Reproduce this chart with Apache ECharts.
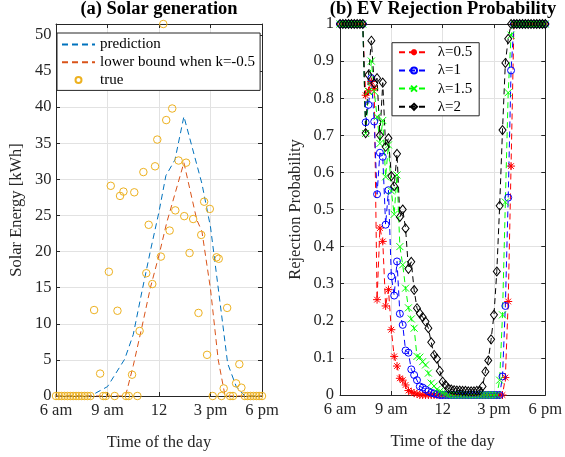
<!DOCTYPE html>
<html>
<head>
<meta charset="utf-8">
<script src="https://cdn.jsdelivr.net/npm/echarts@6/dist/echarts.min.js"></script>
<style>
html,body{margin:0;padding:0;background:#fff;}
#chart{width:565px;height:457px;}
</style>
</head>
<body>
<div id="chart"></div>
<script>
// ---------- Data: (a) Solar generation ----------
const xTickHours = [6, 9, 12, 15, 18];
const xTickLabels = ['6 am', '9 am', '12', '3 pm', '6 pm'];

const predHours  = [6, 8, 9, 10, 10.5, 11, 11.5, 12, 12.4, 12.93, 13.45, 14.5, 15, 15.5, 16, 16.5, 17, 18];
const predValues = [0, 0, 1.3, 5.1, 8.5, 14.4, 20.1, 25.5, 30.5, 32.7, 38.7, 29.4, 23.4, 14.0, 4.5, 1.3, 0, 0];

const lbHours  = [6, 10.05, 10.5, 11, 11.5, 12, 12.45, 13.45, 14.2, 14.5, 15, 15.45, 15.85, 18];
const lbValues = [0, 0, 4.2, 9.5, 15.0, 19.5, 24.0, 32.3, 24.4, 22.8, 14.8, 5.0, 0, 0];

const trueHours = [6.00, 6.17, 6.33, 6.50, 6.67, 6.83, 7.00, 7.17, 7.33, 7.50, 7.67, 7.83, 8.00,
  8.22, 8.57, 8.75, 8.90, 9.08, 9.19, 9.42, 9.58, 9.73, 9.93, 10.08, 10.24, 10.43, 10.56, 10.74, 10.87,
  11.09, 11.26, 11.40, 11.61, 11.77, 11.90, 12.11, 12.25, 12.42, 12.62, 12.77, 12.95, 13.14, 13.47,
  13.58, 13.78, 13.99, 14.30, 14.46, 14.63, 14.80, 14.96, 15.13, 15.35, 15.48, 15.64, 15.77, 15.97,
  16.14, 16.31, 16.49, 16.68, 16.80, 17.00, 17.17, 17.33, 17.50, 17.67, 17.83, 18.00];
const trueValues = [0, 0, 0, 0, 0, 0, 0, 0, 0, 0, 0, 0, 0,
  11.9, 3.1, 0, 0, 17.2, 29.1, 0, 11.8, 27.7, 28.3, 0, 0, 2.95, 28.2, 0, 9.0,
  31.0, 17.0, 23.7, 15.5, 31.8, 35.5, 19.3, 51.5, 38.2, 22.9, 39.8, 25.7, 32.6, 24.9,
  32.3, 19.8, 24.5, 11.5, 22.3, 26.9, 5.7, 25.9, 0, 19.2, 19.0, 0, 1.05, 12.2,
  0, 0, 1.75, 4.4, 1.15, 0, 0, 0, 0, 0, 0, 0];

// ---------- Data: (b) EV Rejection Probability (10-minute slots, 6:00 .. 18:00) ----------
const slotHours = [];
for (let i = 0; i <= 72; i++) slotHours.push(6 + i / 6);

const lam05 = [1, 1, 1, 1, 1, 1, 1, 1, 1,
  0.808, 0.82, 0.845, 0.826, 0.257, 0.45, 0.414, 0.24, 0.284, 0.176, 0.104, 0.078, 0.045, 0.04, 0.027, 0.012,
  0.008, 0.005, 0.003, 0, 0, 0, 0, 0, 0, 0, 0, 0, 0, 0, 0, 0, 0, 0, 0, 0, 0, 0, 0, 0, 0, 0, 0, 0, 0, 0, 0, 0, 0,
  0.047, 0.252, 0.617, 1, 1, 1, 1, 1, 1, 1, 1, 1, 1, 1, 1];
const lam1 = [1, 1, 1, 1, 1, 1, 1, 1, 1,
  0.735, 0.782, 0.854, 0.737, 0.541, 0.653, 0.642, 0.459, 0.552, 0.32, 0.268, 0.36, 0.219, 0.189, 0.12, 0.114,
  0.069, 0.054, 0.04, 0.023, 0.02, 0.015, 0.01, 0.006, 0.004, 0.002, 0, 0, 0, 0, 0, 0, 0, 0, 0, 0, 0, 0, 0, 0, 0, 0, 0, 0, 0, 0, 0, 0,
  0.05, 0.24, 0.532, 0.875, 1, 1, 1, 1, 1, 1, 1, 1, 1, 1, 1, 1];
const lam15 = [1, 1, 1, 1, 1, 1, 1, 1, 1,
  0.705, 0.818, 0.9, 0.818, 0.75, 0.678, 0.74, 0.588, 0.674, 0.55, 0.487, 0.593, 0.40, 0.351, 0.288, 0.235,
  0.205, 0.18, 0.104, 0.102, 0.09, 0.081, 0.059, 0.032, 0.024, 0.015, 0.01, 0.006, 0.003, 0, 0, 0, 0, 0, 0, 0, 0, 0, 0, 0, 0, 0, 0, 0, 0, 0, 0,
  0.04, 0.216, 0.52, 0.815, 0.97, 1, 1, 1, 1, 1, 1, 1, 1, 1, 1, 1, 1];
const lam2 = [1, 1, 1, 1, 1, 1, 1, 1, 1,
  0.706, 0.863, 0.955, 0.84, 0.854, 0.70, 0.842, 0.669, 0.692, 0.59, 0.563, 0.65, 0.48, 0.50, 0.449, 0.34,
  0.359, 0.283, 0.234, 0.22, 0.21, 0.198, 0.18, 0.142, 0.108, 0.098, 0.065, 0.036, 0.027, 0.018, 0.015, 0.013,
  0.012, 0.012, 0.011, 0.011, 0.01, 0.01, 0.01, 0.011, 0.012, 0.023, 0.063, 0.093, 0.15, 0.216, 0.333, 0.51,
  0.714, 0.895, 0.96, 1, 1, 1, 1, 1, 1, 1, 1, 1, 1, 1, 1, 1];

const lamLabels = ['λ=0.5', 'λ=1', 'λ=1.5', 'λ=2'];
const solarLabels = ['prediction', 'lower bound when k=-0.5', 'true'];

// ---------- Chart ----------
const FONT = 'Liberation Serif';
const AX = '#262626';
const CLEAR = 'rgba(0,0,0,0)';
const zip = (xs, ys) => xs.map((x, i) => [x, ys[i]]);
const hourFmt = v => { const k = xTickHours.indexOf(Math.round(v * 1000) / 1000); return k >= 0 ? xTickLabels[k] : ''; };

function xAx(gi, pos, main) {
  return {
    type: 'value', gridIndex: gi, position: pos, min: 6, max: 18, interval: 3,
    axisLine: { show: true, onZero: false, lineStyle: { color: AX, width: 1 } },
    axisTick: { show: true, inside: true, length: 4, lineStyle: { color: AX } },
    axisLabel: { show: main, formatter: hourFmt, color: AX, fontFamily: FONT, fontSize: 16.5, margin: 6 },
    splitLine: { show: main, lineStyle: { color: '#e2e2e2', width: 1 } },
    name: main ? 'Time of the day' : '', nameLocation: 'middle', nameGap: 38, nameMoveOverlap: false,
    nameTextStyle: { color: AX, fontFamily: FONT, fontSize: 16.5 }
  };
}
function yAx(gi, pos, main, max, interval, name, gap, fmt, margin) {
  return {
    type: 'value', gridIndex: gi, position: pos, min: 0, max: max, interval: interval,
    axisLine: { show: true, onZero: false, lineStyle: { color: AX, width: 1 } },
    axisTick: { show: true, inside: true, length: 4, lineStyle: { color: AX } },
    axisLabel: { show: main, formatter: fmt, color: AX, fontFamily: FONT, fontSize: 16.5, margin: margin },
    splitLine: { show: main, lineStyle: { color: '#e2e2e2', width: 1 } },
    name: main ? name : '', nameLocation: 'middle', nameGap: gap, nameMoveOverlap: false,
    nameTextStyle: { color: AX, fontFamily: FONT, fontSize: 16.5 }
  };
}
const solarFmt = v => (Math.abs(v % 5) < 1e-6 ? String(v) : '');
const probFmt = v => String(Math.round(v * 10) / 10);

const starPath = 'path://M0,-10L0,10M-10,0L10,0M-7.07,-7.07L7.07,7.07M-7.07,7.07L7.07,-7.07';
const crossPath = 'path://M-10,-10L10,10M-10,10L10,-10';
const dash = [6, 4];

function lamSeries(name, data, color, symbol, size) {
  return {
    name: name, type: 'line', xAxisIndex: 2, yAxisIndex: 2,
    data: zip(slotHours, data),
    symbol: symbol, symbolSize: size, showSymbol: true, showAllSymbol: true,
    lineStyle: { color: color, width: 1, type: dash },
    itemStyle: { color: CLEAR, borderColor: color, borderWidth: 1 },
    emphasis: { disabled: true }
  };
}

const option = {
  animation: false,
  backgroundColor: '#ffffff',
  title: [
    { text: '(a) Solar generation', left: 159, top: 0, textAlign: 'center', padding: 0,
      textStyle: { fontFamily: FONT, fontWeight: 'bold', fontSize: 18.5, color: '#000' } },
    { text: '(b) EV Rejection Probability', left: 443, top: 0, textAlign: 'center', padding: 0,
      textStyle: { fontFamily: FONT, fontWeight: 'bold', fontSize: 18.5, color: '#000' } }
  ],
  grid: [
    { left: 56, top: 24, width: 206, height: 372 },
    { left: 340, top: 24, width: 207, height: 371 }
  ],
  xAxis: [xAx(0, 'bottom', true), xAx(0, 'top', false), xAx(1, 'bottom', true), xAx(1, 'top', false)],
  yAxis: [
    yAx(0, 'left', true, 51.5, 5, 'Solar Energy [kWh]', 31, solarFmt, 4.5),
    yAx(0, 'right', false, 51.5, 5, '', 0, solarFmt, 4.5),
    yAx(1, 'left', true, 1, 0.1, 'Rejection Probability', 36, probFmt, 6),
    yAx(1, 'right', false, 1, 0.1, '', 0, probFmt, 6)
  ],
  legend: [
    { data: solarLabels, orient: 'vertical', left: 57, top: 33,
      padding: [4, 5, 3, 4], itemGap: 2.7, itemWidth: 33, itemHeight: 7.5,
      backgroundColor: '#fff', borderColor: AX, borderWidth: 1, selectedMode: false,
      textStyle: { fontFamily: FONT, fontSize: 15, color: '#000' } },
    { data: lamLabels, orient: 'vertical', left: 392, top: 42.7,
      padding: [2, 7, 1.5, 6], itemGap: 3.2, itemWidth: 30, itemHeight: 7.5,
      backgroundColor: '#fff', borderColor: AX, borderWidth: 1, selectedMode: false,
      textStyle: { fontFamily: FONT, fontSize: 15, color: '#000', padding: [0, 0, 0, 3.7] } }
  ],
  series: [
    { name: solarLabels[0], type: 'line', xAxisIndex: 0, yAxisIndex: 0, data: zip(predHours, predValues),
      showSymbol: false, symbol: 'circle', lineStyle: { color: '#0072BD', width: 1, type: dash },
      itemStyle: { color: CLEAR, borderColor: CLEAR, borderWidth: 0 }, emphasis: { disabled: true } },
    { name: solarLabels[1], type: 'line', xAxisIndex: 0, yAxisIndex: 0, data: zip(lbHours, lbValues),
      showSymbol: false, symbol: 'circle', lineStyle: { color: '#D95319', width: 1, type: dash },
      itemStyle: { color: CLEAR, borderColor: CLEAR, borderWidth: 0 }, emphasis: { disabled: true } },
    { name: solarLabels[2], type: 'line', xAxisIndex: 0, yAxisIndex: 0, data: zip(trueHours, trueValues),
      symbol: 'circle', symbolSize: 7.5, showSymbol: true, showAllSymbol: true, clip: false,
      lineStyle: { color: '#EDB120', width: 0, opacity: 0 },
      itemStyle: { color: CLEAR, borderColor: '#EDB120', borderWidth: 1 }, emphasis: { disabled: true } },
    lamSeries(lamLabels[0], lam05, '#FF0000', starPath, 8),
    lamSeries(lamLabels[1], lam1, '#0000FF', 'circle', 7),
    lamSeries(lamLabels[2], lam15, '#00FF00', crossPath, 7),
    lamSeries(lamLabels[3], lam2, '#000000', 'diamond', [7, 9])
  ]
};

const chart = echarts.init(document.getElementById('chart'), null, { renderer: 'canvas' });
chart.setOption(option);
</script>
</body>
</html>
